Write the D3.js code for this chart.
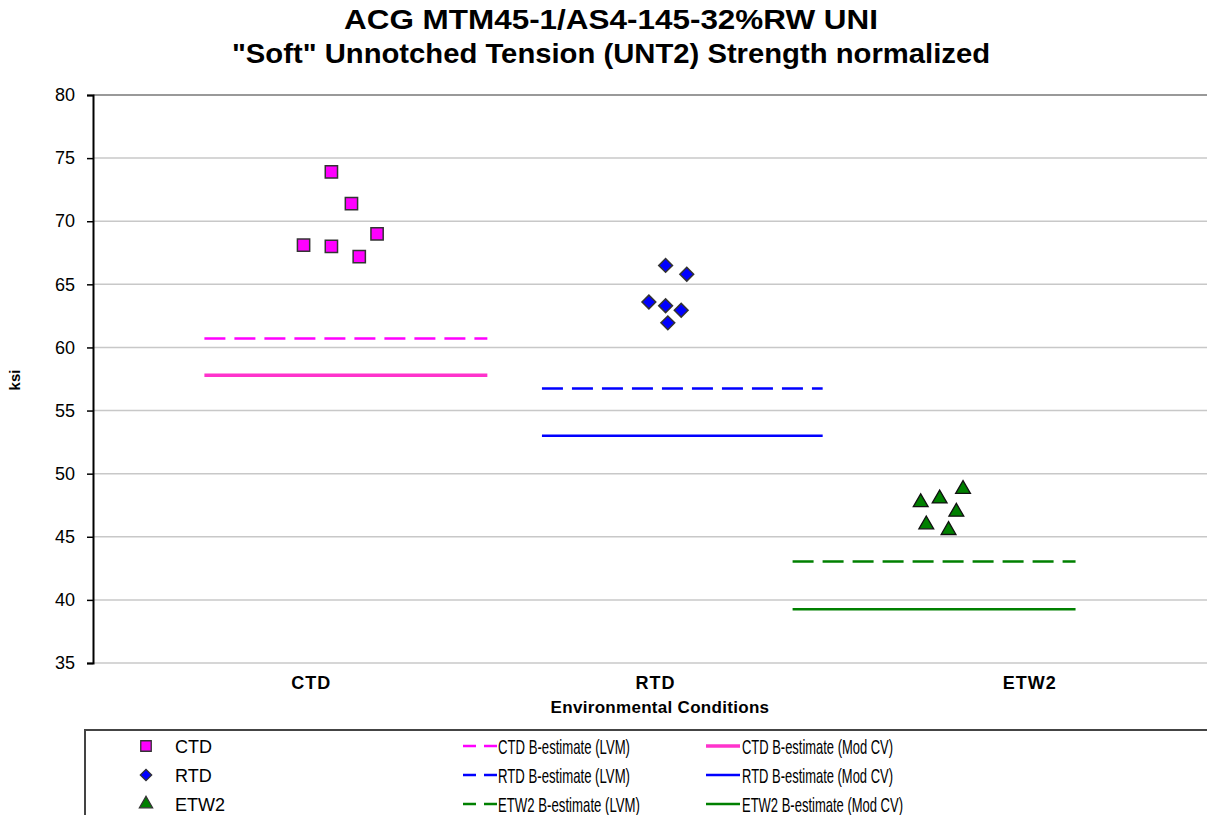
<!DOCTYPE html>
<html>
<head>
<meta charset="utf-8">
<script src="https://cdn.jsdelivr.net/npm/d3@7"></script>
<style>
html, body { margin: 0; padding: 0; background: #fff; }
svg { display: block; font-family: "Liberation Sans", Arial, sans-serif; }
</style>
</head>
<body>
<svg id="chart" width="1207" height="815"></svg>
<script>
// ---- Data ----
const titleLines = ["ACG MTM45-1/AS4-145-32%RW UNI", "\"Soft\" Unnotched Tension (UNT2) Strength normalized"];
const yTicks = [35, 40, 45, 50, 55, 60, 65, 70, 75, 80];
const categories = ["CTD", "RTD", "ETW2"];
const categoryPos = [19.6, 50.5, 84.1];

const ctdX = [18.9, 21.4, 23.2, 23.9, 25.5, 21.4];
const ctdY = [68.1, 73.9, 71.4, 67.2, 69.0, 68.0];
const rtdX = [49.9, 51.4, 53.3, 51.6, 52.8, 51.4];
const rtdY = [63.6, 66.5, 65.8, 61.95, 62.95, 63.3];
const etwX = [74.3, 74.8, 76.0, 76.8, 77.5, 78.1];
const etwY = [47.8, 46.05, 48.1, 45.6, 47.05, 48.85];

const lvmValues = [60.7, 56.75, 43.05];
const modCvValues = [57.8, 53.0, 39.25];
const lineStart = [10.0, 40.3, 62.8];
const lineEnd = [35.4, 65.5, 88.2];

const colors = ["#FF00FF", "#0000FF", "#008000"];
const solidColors = ["#FF33CC", "#0000FF", "#008000"];

// ---- Setup ----
const svg = d3.select("#chart");
const plotLeft = 93, plotRight = 1207, plotTop = 95, plotBottom = 663;
const x = d3.scaleLinear().domain([0, 100]).range([plotLeft, plotRight]);
const y = d3.scaleLinear().domain([35, 80]).range([plotBottom, plotTop]);

// Title
svg.selectAll("text.title").data(titleLines).enter().append("text")
  .attr("class", "title")
  .attr("x", 611).attr("y", (d, i) => 29 + i * 34)
  .attr("text-anchor", "middle")
  .attr("font-size", 27).attr("font-weight", "bold")
  .attr("textLength", (d, i) => i === 0 ? 534 : 758)
  .attr("lengthAdjust", "spacingAndGlyphs")
  .text(d => d);

// Gridlines
svg.append("g").selectAll("line").data(yTicks).enter().append("line")
  .attr("x1", plotLeft).attr("x2", plotRight)
  .attr("y1", d => y(d)).attr("y2", d => y(d))
  .attr("stroke", d => d === 80 ? "#999" : "#c8c8c8")
  .attr("stroke-width", d => d === 80 ? 2 : 1.5);

// Y axis
const yAxis = d3.axisLeft(y).tickValues(yTicks).tickSize(6).tickPadding(12);
const gy = svg.append("g").attr("transform", `translate(${plotLeft},0)`).call(yAxis);
gy.select(".domain").attr("stroke", "#000").attr("stroke-width", 2);
gy.selectAll(".tick line").attr("stroke", "#000").attr("stroke-width", 1.5);
gy.selectAll(".tick text").attr("font-size", 18).attr("fill", "#000")
  .attr("font-family", "Liberation Sans, Arial, sans-serif");

// Axis titles
svg.append("text").attr("transform", "translate(20,380) rotate(-90)")
  .attr("text-anchor", "middle").attr("font-size", 15).attr("font-weight", "bold")
  .text("ksi");
svg.append("text").attr("x", 660).attr("y", 713)
  .attr("text-anchor", "middle").attr("font-size", 17).attr("font-weight", "bold")
  .attr("letter-spacing", 0.3)
  .text("Environmental  Conditions");

// Category labels
svg.selectAll("text.cat").data(categories).enter().append("text")
  .attr("class", "cat")
  .attr("x", (d, i) => x(categoryPos[i])).attr("y", 689)
  .attr("text-anchor", "middle").attr("font-size", 18).attr("font-weight", "bold")
  .attr("letter-spacing", 1)
  .text(d => d);

// Reference lines
const lineG = svg.append("g");
categories.forEach((c, i) => {
  lineG.append("line")
    .attr("x1", x(lineStart[i])).attr("x2", x(lineEnd[i]))
    .attr("y1", y(lvmValues[i])).attr("y2", y(lvmValues[i]))
    .attr("stroke", colors[i]).attr("stroke-width", 2.5)
    .attr("stroke-dasharray", "21,9");
  lineG.append("line")
    .attr("x1", x(lineStart[i])).attr("x2", x(lineEnd[i]))
    .attr("y1", y(modCvValues[i])).attr("y2", y(modCvValues[i]))
    .attr("stroke", solidColors[i]).attr("stroke-width", i === 0 ? 3.5 : 2.5);
});

// Markers
const sqSym = d3.symbol().type(d3.symbolSquare).size(150);
const diaSym = d3.symbol().type(d3.symbolSquare).size(95);
const triSym = d3.symbol().type(d3.symbolTriangle).size(95);

const ctdPts = ctdX.map((v, i) => [v, ctdY[i]]);
const rtdPts = rtdX.map((v, i) => [v, rtdY[i]]);
const etwPts = etwX.map((v, i) => [v, etwY[i]]);

svg.append("g").selectAll("path").data(ctdPts).enter().append("path")
  .attr("d", sqSym).attr("transform", d => `translate(${x(d[0])},${y(d[1])})`)
  .attr("fill", "#FF00FF").attr("stroke", "#333").attr("stroke-width", 1.5);
svg.append("g").selectAll("path").data(rtdPts).enter().append("path")
  .attr("d", diaSym).attr("transform", d => `translate(${x(d[0])},${y(d[1])}) rotate(45)`)
  .attr("fill", "#0000FF").attr("stroke", "#333").attr("stroke-width", 1.5);
svg.append("g").selectAll("path").data(etwPts).enter().append("path")
  .attr("d", triSym).attr("transform", d => `translate(${x(d[0])},${y(d[1]) + 1})`)
  .attr("fill", "#008000").attr("stroke", "#111").attr("stroke-width", 1.3);

// Legend
const legend = svg.append("g");
legend.append("rect").attr("x", 85).attr("y", 730).attr("width", 1140).attr("height", 100)
  .attr("fill", "#fff").attr("stroke", "#444").attr("stroke-width", 2);
const rowY = [746, 775, 804];
const markerFill = ["#FF00FF", "#0000FF", "#008000"];
const col1Labels = categories;
const col2Labels = categories.map(c => c + " B-estimate (LVM)");
const col3Labels = categories.map(c => c + " B-estimate (Mod CV)");
const col2Widths = [132, 132, 142];
const col3Widths = [151, 151, 161];
categories.forEach((c, i) => {
  const yy = rowY[i];
  const sym = i === 0 ? d3.symbol().type(d3.symbolSquare).size(110)
            : i === 1 ? d3.symbol().type(d3.symbolSquare).size(65)
            : d3.symbol().type(d3.symbolTriangle).size(75);
  legend.append("path").attr("d", sym)
    .attr("transform", `translate(146,${yy}) ${i === 1 ? "rotate(45)" : ""}`)
    .attr("fill", markerFill[i]).attr("stroke", "#333").attr("stroke-width", 1.3);
  legend.append("text").attr("x", 175).attr("y", yy + 6.5).attr("font-size", 18)
    .text(col1Labels[i]);
  legend.append("line").attr("x1", 463).attr("x2", 497).attr("y1", yy).attr("y2", yy)
    .attr("stroke", colors[i]).attr("stroke-width", 2.5).attr("stroke-dasharray", "13,8");
  legend.append("text").attr("x", 498).attr("y", yy + 7.5).attr("font-size", 21)
    .attr("textLength", col2Widths[i]).attr("lengthAdjust", "spacingAndGlyphs")
    .text(col2Labels[i]);
  legend.append("line").attr("x1", 706).attr("x2", 740).attr("y1", yy).attr("y2", yy)
    .attr("stroke", solidColors[i]).attr("stroke-width", i === 0 ? 3.5 : 2.5);
  legend.append("text").attr("x", 742).attr("y", yy + 7.5).attr("font-size", 21)
    .attr("textLength", col3Widths[i]).attr("lengthAdjust", "spacingAndGlyphs")
    .text(col3Labels[i]);
});
</script>
</body>
</html>
